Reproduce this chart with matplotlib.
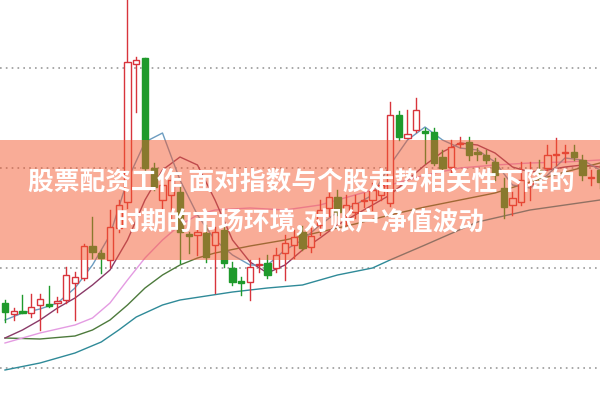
import matplotlib
matplotlib.use('Agg')
import matplotlib.pyplot as plt
from matplotlib.patches import Rectangle

plt.rcParams['font.family'] = ['Noto Sans CJK SC', 'DejaVu Sans']

# candle data, one entry per day
opens = [9.65, 9.54, 9.57, 9.55, 9.63, 9.64, 9.65, 9.68, 9.85, 9.90, 10.22, 10.15, 10.08, 10.40,
         10.66, 12.04, 12.10, 11.00, 10.68, 10.73, 10.76, 10.34, 10.33, 10.35, 10.23, 10.38,
         10.00, 9.87, 9.86, 10.03, 10.05, 10.00, 10.15, 10.23, 10.36, 10.21, 10.43, 10.60,
         10.71, 10.53, 10.56, 10.67, 10.68, 10.73, 10.65, 11.53, 11.30, 11.38, 11.37, 11.36,
         11.11, 11.01, 11.24, 11.26, 11.16, 11.13, 11.06, 10.80, 10.63, 10.66, 10.84, 10.98,
         11.00, 11.13, 11.15, 11.16, 11.08, 10.90, 10.98]
closes = [9.56, 9.57, 9.55, 9.61, 9.69, 9.62, 9.67, 9.93, 9.91, 10.22, 10.16, 10.10, 10.41, 10.63,
          12.06, 12.08, 11.00, 10.81, 10.83, 10.88, 10.36, 10.32, 10.36, 10.11, 10.36, 10.05,
          9.86, 9.85, 10.01, 10.04, 9.93, 10.13, 10.25, 10.31, 10.20, 10.32, 10.58, 10.71,
          10.56, 10.63, 10.65, 10.68, 10.78, 10.83, 11.53, 11.31, 11.34, 11.58, 11.35, 11.05,
          11.00, 11.21, 11.25, 11.13, 11.14, 11.08, 10.93, 10.61, 10.70, 10.88, 10.85, 10.96,
          11.13, 11.14, 11.16, 11.11, 10.93, 10.91, 10.86]
highs = [9.68, 9.60, 9.73, 9.74, 9.74, 9.82, 9.71, 10.01, 9.96, 10.24, 10.51, 10.18, 10.58, 10.68,
         12.78, 12.11, 12.10, 11.05, 10.90, 10.93, 10.83, 10.36, 10.41, 10.43, 10.41, 10.43,
         10.06, 9.91, 10.08, 10.10, 10.13, 10.20, 10.33, 10.38, 10.42, 10.40, 10.68, 10.75,
         10.78, 10.73, 10.73, 10.75, 10.85, 10.88, 11.66, 11.57, 11.58, 11.70, 11.40, 11.40,
         11.18, 11.28, 11.31, 11.31, 11.20, 11.18, 11.10, 10.90, 10.76, 11.06, 11.06, 11.08,
         11.23, 11.30, 11.23, 11.23, 11.13, 10.98, 11.03]
lows = [9.46, 9.48, 9.55, 9.51, 9.38, 9.61, 9.56, 9.65, 9.48, 9.88, 10.10, 9.95, 10.01, 10.36,
        10.60, 11.56, 10.98, 10.78, 10.53, 10.48, 10.05, 10.15, 10.13, 10.06, 9.75, 10.01,
        9.83, 9.73, 9.68, 9.96, 9.90, 9.96, 9.88, 10.10, 10.18, 10.16, 10.33, 10.52,
        10.53, 10.43, 10.50, 10.61, 10.58, 10.68, 10.62, 11.28, 11.30, 11.36, 11.05, 11.03,
        10.98, 10.96, 11.21, 11.08, 11.08, 11.05, 10.88, 10.50, 10.53, 10.63, 10.68, 10.83,
        10.98, 11.03, 11.06, 11.08, 10.88, 10.83, 10.80]

# moving average lines (day index, value)
ma5_x = [0, 2, 4, 6, 8, 10, 12, 14, 16, 18, 20, 22, 24, 26, 28, 30, 32, 34, 36, 38, 40, 42, 44,
         46, 48, 50, 52, 54, 56, 58, 60, 62, 64, 66, 68]
ma5_y = [9.48, 9.55, 9.59, 9.65, 9.80, 10.03, 10.33, 10.88, 11.26, 11.35, 10.88, 10.53, 10.28,
         10.13, 10.03, 10.03, 10.18, 10.28, 10.43, 10.56, 10.63, 10.73, 11.03, 11.28, 11.41,
         11.28, 11.20, 11.18, 11.06, 10.83, 10.80, 10.93, 11.10, 11.08, 10.98]
ma10_x = [0, 2, 4, 6, 8, 10, 12, 14, 16, 18, 20, 22, 24, 26, 28, 30, 32, 34, 36, 38, 40, 42, 44,
          46, 48, 50, 52, 54, 56, 58, 60, 62, 64, 66, 68]
ma10_y = [9.30, 9.38, 9.48, 9.60, 9.70, 9.83, 9.98, 10.28, 10.68, 10.98, 11.11, 11.03, 10.68,
          10.28, 10.06, 9.95, 10.03, 10.18, 10.30, 10.43, 10.53, 10.63, 10.73, 10.88, 11.03,
          11.16, 11.25, 11.23, 11.15, 11.01, 10.96, 10.98, 11.01, 11.03, 11.01]
ma20_x = [0, 4, 8, 10, 12, 14, 16, 18, 20, 22, 24, 28, 32, 36, 40, 44, 48, 52, 56, 60, 64, 68]
ma20_y = [9.25, 9.35, 9.43, 9.50, 9.65, 9.88, 10.10, 10.28, 10.43, 10.53, 10.58, 10.60, 10.58,
          10.63, 10.73, 10.83, 10.93, 11.00, 11.03, 11.05, 11.06, 11.08]
ma30_x = [0, 4, 8, 10, 12, 14, 16, 18, 20, 22, 24, 28, 32, 36, 40, 44, 48, 52, 56, 60, 64, 68]
ma30_y = [9.30, 9.29, 9.32, 9.38, 9.48, 9.63, 9.80, 9.93, 10.03, 10.10, 10.15, 10.22, 10.28,
          10.36, 10.44, 10.53, 10.61, 10.68, 10.75, 10.86, 10.96, 11.05]
ma60_x = [0, 4, 8, 11, 13, 15, 18, 20, 26, 30, 34, 38, 42, 44, 48, 54, 60, 68]
ma60_y = [8.98, 9.05, 9.15, 9.26, 9.38, 9.51, 9.63, 9.68, 9.76, 9.80, 9.83, 9.93, 10.00, 10.08,
          10.23, 10.46, 10.58, 10.68]

grid_levels = [9, 10, 11, 12]
title_lines = ['股票配资工作 面对指数与个股走势相关性下降的', '时期的市场环境,对账户净值波动']

red = '#d8343c'
green = '#1f9a2c'

fig = plt.figure(figsize=(6, 4.01), dpi=100)
ax = fig.add_axes([0, 0, 1, 1])
ax.set_xlim(-0.57, 68.0)
ax.set_ylim(8.67, 12.68)
ax.axis('off')

for g in grid_levels:
    ax.axhline(g, color='#9a9a9a', lw=1.2, ls=(0, (1, 2.5)), zorder=1)

ax.plot(ma60_x, ma60_y, color='#2f8a98', lw=1, zorder=2)
ax.plot(ma30_x, ma30_y, color='#4d7a3c', lw=1, zorder=2)
ax.plot(ma20_x, ma20_y, color='#e49be2', lw=1, zorder=2)
ax.plot(ma10_x, ma10_y, color='#8a3a68', lw=1, zorder=2)
ax.plot(ma5_x, ma5_y, color='#6c9cc0', lw=1, zorder=2)

w = 0.7
for i in range(len(opens)):
    o, c, h, l = opens[i], closes[i], highs[i], lows[i]
    up = c >= o
    col = red if up else green
    ax.plot([i, i], [l, h], color=col, lw=1, zorder=3)
    bottom = min(o, c)
    height = max(abs(c - o), 0.012)
    if up:
        ax.add_patch(Rectangle((i - w / 2, bottom), w, height, facecolor='white',
                               edgecolor=col, lw=1, zorder=4))
    else:
        ax.add_patch(Rectangle((i - w / 2, bottom), w, height, facecolor=col,
                               edgecolor=col, lw=1, zorder=4))

# translucent banner with caption
ax.add_patch(Rectangle((0, 10.08), 1, 1.20, transform=ax.get_yaxis_transform(),
                       facecolor='#f45a30', alpha=0.5, lw=0, zorder=5))
fig.text(0.503, 0.546, title_lines[0], color='white', fontsize=18.5, fontweight='bold',
         ha='center', va='center', zorder=6)
fig.text(0.5, 0.449, title_lines[1], color='white', fontsize=18.5, fontweight='bold',
         ha='center', va='center', zorder=6)

fig.savefig('out.png', dpi=100)
